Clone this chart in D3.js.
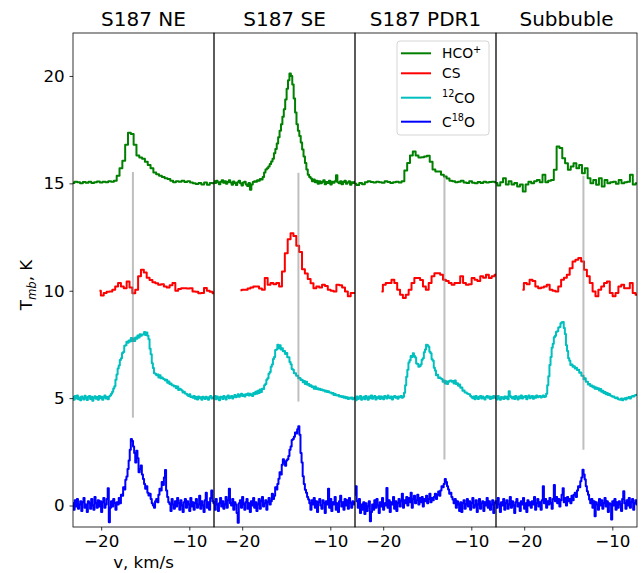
<!DOCTYPE html>
<html>
<head>
<meta charset="utf-8">
<script src="https://cdn.jsdelivr.net/npm/d3@7"></script>
<style>
  body { margin: 0; background: #fff; }
  svg { display: block; }
  text { font-family: "DejaVu Sans", sans-serif; fill: #000; }
</style>
</head>
<body>
<svg id="chart" width="643" height="573"></svg>
<script>
// ---- regions and species ----
const regions = ["S187 NE", "S187 SE", "S187 PDR1", "Subbuble"];
// legend labels: [text, isSuperscript]
const speciesLabels = [
  [["HCO", 0], ["+", 1]],
  [["CS", 0]],
  [["12", 1], ["CO", 0]],
  [["C", 0], ["18", 1], ["O", 0]]
];
const speciesColors = ["#008000", "#ff0000", "#00bfbf", "#0000ff"];
const speciesOffsets = [15, 10, 5, 0];   // vertical display offsets, K

// channel grids (km/s): first channel and channel width per region
const hcoStart = -23.2, hcoWidth = [0.32, 0.16, 0.32, 0.32];
const csStart = -20.2, csWidth = [0.325, 0.325, 0.325, 0.325];
const coStart = -23.2, coWidth = [0.125, 0.125, 0.125, 0.125];

// reference velocity marks per region
const markVelocity = [-16.4, -13.62, -13.05, -13.28];
const markTop = [15.53, 15.49, 15.35, 15.35];
const markBottom = [4.09, 4.84, 2.14, 2.6];

const xTicks = [-20, -10];
const yTicks = [0, 5, 10, 15, 20];

// ---- HCO+ spectra, T_mb (K) ----
const hcoNE = [0.02, 0.08, 0.05, 0.00, 0.06, 0.03, 0.07, 0.02, 0.05, 0.09,
  0.04, 0.07, 0.05, 0.10, 0.08, 0.12, 0.35, 0.70, 1.05, 1.80,
  2.35, 2.30, 1.80, 1.30, 1.20, 1.15, 1.00, 0.85, 0.70, 0.50,
  0.42, 0.35, 0.30, 0.24, 0.20, 0.12, 0.05, 0.10, 0.08, 0.12,
  0.06, 0.10, 0.04, 0.00, -0.03, 0.02, -0.05, 0.04, -0.06, 0.02, 0.00];
const hcoSE = [0.10, 0.02, 0.12, 0.05, -0.04, 0.08, 0.15, 0.03, 0.10, -0.02,
  0.06, 0.14, 0.04, -0.06, 0.09, 0.02, -0.08, 0.05, 0.12, 0.00,
  -0.10, 0.04, 0.08, -0.05, -0.12, 0.02, -0.30, -0.05, 0.06, 0.10,
  0.08, 0.15, 0.12, 0.20, 0.18, 0.30, 0.50, 0.65, 0.70, 0.78,
  0.90, 1.02, 1.15, 1.40, 1.60, 1.85, 2.15, 2.45, 2.75, 3.10,
  3.45, 3.90, 4.40, 4.80, 5.12, 5.00, 4.60, 3.95, 3.30, 2.75,
  2.45, 2.20, 1.90, 1.58, 1.25, 0.95, 0.65, 0.40, 0.30, 0.22,
  0.10, 0.18, 0.05, 0.12, -0.02, 0.10, 0.00, 0.08, 0.15, -0.04,
  0.06, 0.02, 0.12, -0.05, 0.08, 0.03, 0.10, 0.38, 0.05, 0.00,
  0.10, -0.04, 0.06, 0.12, -0.02, 0.04, 0.10, -0.06, 0.05, 0.02, 0.08];
const hcoPDR1 = [-0.02, -0.08, 0.02, -0.04, 0.05, 0.10, 0.06, 0.04, 0.08, 0.05,
  0.03, 0.10, 0.06, 0.02, 0.05, 0.08, 0.04, 0.10, 0.60, 0.95,
  1.30, 1.48, 1.30, 1.20, 1.22, 1.25, 1.28, 1.00, 0.65, 0.55,
  0.55, 0.40, 0.32, 0.22, 0.12, 0.10, 0.05, 0.08, 0.12, 0.04,
  0.02, 0.10, 0.03, 0.00, 0.06, 0.02, 0.08, 0.04, 0.06, 0.08, 0.05];
const hcoSub = [0.02, -0.10, 0.05, 0.24, -0.05, 0.10, -0.05, 0.02, -0.15, -0.05,
  -0.38, -0.05, 0.08, 0.00, 0.10, 0.16, 0.05, 0.40, 0.05, 0.12,
  0.16, 0.63, 1.71, 1.64, 1.17, 0.93, 0.63, 0.78, 0.93, 0.70,
  0.86, 0.47, 0.70, 0.24, 0.00, 0.16, -0.07, 0.24, -0.15, 0.16,
  0.00, 0.05, 0.08, -0.02, 0.16, 0.00, 0.05, 0.08, 0.40, -0.05, 0.00];

// ---- CS spectra ----
const csNE = [0.00, -0.22, -0.10, -0.05, -0.03, 0.05, 0.20, 0.36, 0.20, 0.12,
  0.43, 0.15, -0.12, 0.05, 0.67, 0.98, 0.85, 0.60, 0.50, 0.40,
  0.35, 0.28, 0.30, 0.20, 0.15, 0.25, 0.36, 0.00, 0.08, 0.12,
  0.12, 0.10, 0.12, -0.03, -0.05, -0.12, -0.10, 0.13, 0.00, -0.05, -0.12];
const csSE = [0.02, 0.05, 0.05, 0.10, 0.15, 0.20, 0.20, 0.10, 0.05, 0.59,
  0.28, 0.36, 0.30, 0.36, 0.20, 0.90, 1.75, 2.40, 2.68, 2.55,
  2.10, 1.80, 1.00, 0.80, 0.55, 0.35, 0.12, 0.20, 0.15, 0.28,
  0.22, 0.05, 0.00, -0.03, 0.28, 0.25, 0.15, -0.03, -0.26, -0.11, -0.10];
const csPDR1 = [-0.03, 0.28, 0.36, 0.36, 0.51, 0.36, 0.05, -0.19, -0.34, -0.19,
  0.05, 0.36, 0.59, 0.59, 0.50, 0.20, 0.05, 0.36, 0.67, 0.82,
  0.82, 0.74, 0.51, 0.45, 0.36, 0.28, 0.36, 0.36, 0.67, 0.36,
  0.28, 0.30, 0.59, 0.51, 0.45, 0.67, 0.60, 0.74, 0.59, 0.67, 0.74];
const csSub = [0.05, 0.36, 0.30, 0.51, 0.45, 0.20, 0.12, 0.15, 0.20, 0.28,
  0.05, 0.00, -0.03, 0.20, 0.51, 0.60, 0.75, 1.05, 1.36, 1.44,
  1.52, 1.36, 0.98, 0.67, 0.36, -0.03, -0.26, 0.05, 0.20, 0.36,
  0.43, -0.11, -0.26, -0.11, 0.20, 0.28, 0.12, 0.12, 0.36, -0.11, -0.19];

// ---- 12CO spectra ----
const co12NE = [0.05, -0.08, 0.10, -0.02, 0.12, -0.05, 0.03, -0.10,
  0.08, 0.00, -0.06, 0.11, 0.02, -0.09, 0.06, 0.10,
  -0.04, 0.07, -0.12, 0.02, 0.09, -0.03, 0.05, -0.07,
  0.10, 0.00, 0.06, -0.08, 0.04, 0.12, -0.02, 0.05,
  -0.05, 0.08, 0.12, 0.20, 0.30, 0.45, 0.55, 0.85,
  1.10, 1.38, 1.52, 1.78, 1.86, 2.10, 2.15, 2.44,
  2.46, 2.62, 2.58, 2.68, 2.64, 2.80, 2.66, 2.78,
  2.66, 2.82, 2.76, 2.92, 2.82, 2.97, 2.90, 2.96,
  2.96, 3.08, 2.94, 3.06, 2.90, 2.74, 2.30, 2.04,
  1.62, 1.40, 1.16, 1.14, 1.06, 1.10, 0.96, 1.06,
  0.92, 0.96, 0.90, 0.88, 0.82, 0.86, 0.72, 0.78,
  0.66, 0.68, 0.60, 0.60, 0.54, 0.56, 0.46, 0.54,
  0.38, 0.44, 0.40, 0.36, 0.26, 0.30, 0.22, 0.20,
  0.15, 0.10, 0.18, 0.05, 0.08, 0.02, 0.10, -0.03,
  0.05, -0.06, 0.08, 0.00, 0.04, -0.08, 0.06, 0.02,
  -0.04, 0.07, 0.00, -0.07, 0.05, 0.10, -0.02, 0.03,
  0.00];
const co12SE = [0.02, 0.10, -0.05, 0.08, 0.00, -0.10, 0.06, 0.04,
  -0.04, 0.10, 0.03, -0.06, 0.08, 0.12, 0.00, 0.05,
  0.10, -0.02, 0.06, 0.14, 0.04, 0.08, 0.18, 0.06,
  0.12, 0.20, 0.10, 0.16, 0.08, 0.18, 0.14, 0.22,
  0.12, 0.20, 0.15, 0.10, 0.24, 0.18, 0.30, 0.20,
  0.34, 0.24, 0.40, 0.28, 0.44, 0.42, 0.60, 0.66,
  0.86, 0.92, 1.14, 1.22, 1.46, 1.56, 1.82, 1.92,
  2.24, 2.26, 2.48, 2.32, 2.46, 2.26, 2.32, 2.18,
  2.20, 2.06, 2.10, 1.90, 1.90, 1.68, 1.58, 1.36,
  1.32, 1.16, 1.16, 1.04, 1.04, 0.92, 0.94, 0.84,
  0.86, 0.74, 0.80, 0.66, 0.76, 0.62, 0.66, 0.56,
  0.60, 0.52, 0.54, 0.44, 0.54, 0.42, 0.46, 0.40,
  0.44, 0.38, 0.40, 0.36, 0.37, 0.31, 0.34, 0.28,
  0.32, 0.26, 0.26, 0.21, 0.24, 0.14, 0.19, 0.13,
  0.12, 0.15, 0.08, 0.10, 0.05, 0.09, 0.02, 0.06,
  0.00, 0.04, -0.04, 0.02, -0.02, 0.03, -0.05, 0.00,
  0.02];
const co12PDR1 = [0.05, -0.10, 0.08, -0.04, 0.02, 0.10, -0.08, 0.00,
  0.06, -0.05, 0.10, 0.02, -0.07, 0.08, 0.00, 0.12,
  -0.03, 0.05, 0.10, -0.06, 0.04, 0.00, 0.09, -0.04,
  0.08, 0.02, -0.05, 0.10, 0.05, -0.02, 0.12, 0.03,
  0.00, 0.08, -0.06, 0.05, 0.10, 0.02, 0.06, -0.03,
  0.08, 0.04, 0.10, 0.02, 0.06, 0.25, 0.60, 1.00,
  1.32, 1.66, 1.76, 1.96, 1.91, 2.09, 1.96, 1.89,
  1.61, 1.59, 1.46, 1.49, 1.56, 1.79, 1.86, 2.14,
  2.26, 2.49, 2.46, 2.39, 2.16, 2.09, 1.81, 1.74,
  1.41, 1.29, 1.06, 1.09, 0.94, 0.96, 0.91, 0.89,
  0.76, 0.82, 0.68, 0.79, 0.66, 0.76, 0.81, 0.82,
  0.76, 0.80, 0.68, 0.82, 0.66, 0.69, 0.58, 0.64,
  0.48, 0.49, 0.34, 0.36, 0.26, 0.26, 0.21, 0.19,
  0.18, 0.10, 0.05, 0.00, 0.08, -0.05, 0.10, 0.02,
  -0.04, 0.06, 0.10, -0.02, 0.08, 0.00, -0.06, 0.05,
  0.10, 0.02, 0.08, -0.04, 0.06, 0.00, 0.10, 0.04,
  0.00];
const co12Sub = [0.04, -0.06, 0.10, 0.00, -0.08, 0.05, 0.02, -0.04,
  0.08, 0.00, 0.06, -0.05, 0.32, 0.10, 0.04, -0.02,
  0.06, -0.04, 0.10, 0.02, -0.06, 0.08, 0.00, 0.12,
  -0.02, 0.07, 0.04, 0.10, -0.05, 0.06, 0.12, 0.00,
  0.05, 0.10, -0.03, 0.08, 0.02, 0.12, 0.04, 0.08,
  0.10, 0.03, 0.06, 0.12, 0.05, 0.08, 0.20, 0.60,
  1.02, 1.54, 1.91, 2.34, 2.53, 2.84, 2.91, 3.09,
  3.11, 3.29, 3.31, 3.49, 3.53, 3.54, 3.26, 2.99,
  2.46, 2.19, 1.86, 1.74, 1.54, 1.56, 1.46, 1.49,
  1.38, 1.42, 1.31, 1.32, 1.18, 1.19, 1.04, 1.04,
  0.88, 0.92, 0.76, 0.76, 0.64, 0.66, 0.56, 0.59,
  0.51, 0.54, 0.44, 0.49, 0.42, 0.46, 0.36, 0.42,
  0.30, 0.34, 0.24, 0.29, 0.18, 0.24, 0.14, 0.19,
  0.12, 0.10, 0.06, 0.08, 0.02, 0.00, 0.03, -0.04,
  -0.06, -0.08, -0.02, -0.10, -0.04, 0.00, -0.06, 0.02,
  0.00, 0.05, -0.02, 0.06, 0.10, 0.08, 0.12, 0.15,
  0.16];

// ---- C18O spectra ----
const c18oNE = [0.10, -0.20, 0.25, -0.05, 0.30, -0.15, 0.05, 0.20,
  -0.25, 0.15, 0.35, -0.10, 0.05, -0.30, 0.20, 0.10,
  -0.15, 0.30, 0.00, -0.20, 0.40, 0.10, -0.10, 0.25,
  -0.05, 0.20, -0.30, 0.15, 0.35, -0.10, 0.05, 0.30,
  0.80, -0.78, -0.10, 0.20, -0.05, 0.30, 0.10, -0.20,
  0.15, 0.05, 0.35, 0.10, 0.50, 0.45, 0.85, 0.75,
  1.20, 1.35, 1.70, 2.10, 2.60, 3.10, 3.00, 2.75,
  2.45, 2.00, 2.55, 2.20, 1.55, 1.70, 1.86, 1.45,
  1.24, 1.00, 0.78, 0.90, 0.60, 0.47, 0.55, 0.30,
  0.10, 0.00, -0.10, 0.20, 0.30, 0.15, 0.50, 0.78,
  0.70, 1.10, 0.95, 1.30, 1.65, 0.70, 0.40, 0.15,
  0.07, -0.25, 0.30, 0.05, -0.15, 0.20, -0.05, 0.35,
  0.10, -0.20, 0.25, 0.00, -0.30, 0.15, 0.30, -0.10,
  0.20, 0.05, -0.25, 0.35, -0.05, 0.15, -0.20, 0.10,
  0.30, -0.10, 0.05, 0.45, -0.15, 0.20, 0.00, -0.30,
  0.25, 0.60, -0.10, 0.15, -0.20, 0.35, 0.70, 0.20,
  0.10];
const c18oSE = [0.15, -0.20, 0.30, 0.05, -0.25, 0.10, 0.35, -0.05,
  0.20, -0.15, 0.05, 0.40, -0.10, 0.25, 0.78, 0.10,
  0.00, 0.30, -0.20, 0.15, 0.05, -0.35, -0.80, 0.10,
  0.25, -0.10, 0.40, 0.05, -0.20, 0.15, 0.30, -0.15,
  0.10, -0.30, 0.20, 0.00, 0.35, -0.10, 0.15, -0.25,
  0.05, 0.30, -0.15, 0.20, 0.40, -0.05, 0.10, 0.25,
  -0.20, 0.15, 0.35, 0.05, 0.20, 0.55, 0.30, 0.45,
  0.85, 0.75, 1.00, 1.25, 1.55, 1.45, 1.90, 2.15,
  2.00, 1.85, 2.10, 2.15, 2.30, 2.60, 2.75, 3.05,
  3.10, 3.20, 3.40, 3.35, 3.55, 3.69, 3.30, 2.45,
  2.00, 1.36, 1.00, 0.74, 0.60, 0.40, 0.28, 0.10,
  -0.20, 0.25, 0.05, 0.35, -0.10, 0.20, -0.30, 0.15,
  0.30, 0.00, -0.15, 0.25, 0.10, -0.35, 0.20, 0.05,
  0.78, -0.10, 0.30, -0.25, 0.15, 0.05, 0.40, -0.20,
  0.10, -0.30, 0.20, 0.45, -0.05, 0.15, -0.20, 0.30,
  0.00, 0.25, -0.15, 0.35, 0.10, -0.10, 0.20, 0.05,
  0.15];
const c18oPDR1 = [0.50, 0.90, 0.20, -0.10, 0.30, -0.35, 0.05, -0.20,
  0.15, -0.40, 0.10, -0.25, -0.05, 0.20, -0.73, -0.30,
  0.05, -0.20, 0.25, -0.10, 0.30, 0.00, -0.35, 0.15,
  -0.05, 0.35, -0.20, 0.10, 0.00, 0.82, -0.10, 0.25,
  -0.30, 0.15, 0.05, 0.40, -0.15, 0.20, -0.25, 0.10,
  0.30, -0.05, 0.20, 0.55, -0.10, 0.25, 0.10, 0.40,
  0.00, 0.35, 0.15, 0.60, -0.10, 0.30, 0.45, 0.10,
  0.25, 0.50, 0.05, 0.35, 0.15, 0.40, -0.05, 0.30,
  0.20, 0.45, 0.10, 0.30, 0.55, 0.15, 0.35, 0.25,
  0.40, 0.55, 0.30, 0.50, 0.65, 0.45, 0.70, 0.90,
  0.85, 1.00, 1.24, 1.10, 0.90, 0.75, 0.55, 0.60,
  0.40, 0.28, 0.10, 0.30, -0.10, 0.20, 0.05, -0.25,
  0.15, -0.30, 0.10, 0.25, -0.15, 0.05, 0.30, -0.05,
  0.20, -0.20, 0.10, 0.35, -0.10, 0.00, 0.25, -0.30,
  0.05, 0.30, -0.15, 0.10, 0.20, -0.25, 0.15, 0.00,
  0.35, -0.10, 0.20, -0.20, 0.05, 0.25, -0.35, 0.10,
  0.20];
const c18oSub = [0.20, -0.10, 0.35, 0.05, -0.30, 0.15, 0.00, 0.30,
  -0.20, 0.10, 0.25, -0.15, 0.05, 0.40, -0.10, 0.20,
  0.00, -0.35, 0.15, 0.30, -0.05, 0.10, -0.25, 0.20,
  0.05, 0.35, -0.15, 0.10, -0.30, 0.25, 0.00, 0.15,
  -0.10, 0.20, 0.05, 0.40, -0.20, 0.10, 0.30, -0.05,
  0.15, -0.20, 0.25, 0.90, 0.10, 0.30, -0.10, 0.20,
  0.05, 0.35, 0.10, -0.15, 0.30, 0.95, 0.20, 0.40,
  0.10, 0.30, -0.05, 0.25, 0.50, 0.80, 0.15, 0.35,
  0.00, 0.40, 0.20, 0.30, 0.10, 0.45, 0.25, 0.50,
  0.59, 0.40, 0.70, 0.90, 0.85, 1.13, 1.30, 1.67,
  1.45, 1.21, 0.90, 0.67, 0.50, 0.28, 0.10, 0.30,
  -0.10, 0.20, -0.50, 0.15, 0.05, -0.20, 0.30, 0.00,
  0.25, -0.15, 0.10, 0.35, -0.05, 0.20, -0.30, 0.10,
  0.05, -0.65, 0.20, 0.00, 0.30, -0.20, 0.15, -0.10,
  0.20, 0.05, -0.25, 0.30, 0.67, 0.10, -0.15, 0.25,
  0.00, 0.35, -0.10, 0.15, 0.30, -0.20, 0.10, 0.25,
  0.05];

// spectra grouped by species, one entry per region
const spectra = [
  { values: [hcoNE, hcoSE, hcoPDR1, hcoSub], start: hcoStart, width: hcoWidth },
  { values: [csNE, csSE, csPDR1, csSub], start: csStart, width: csWidth },
  { values: [co12NE, co12SE, co12PDR1, co12Sub], start: coStart, width: coWidth },
  { values: [c18oNE, c18oSE, c18oPDR1, c18oSub], start: coStart, width: coWidth }
];

// ---- layout ----
const W = 643, H = 573;
const plotLeft = 73, plotTop = 33, plotBottom = 527, panelW = 141;
const vDomain = [-23.2, -7.2];
const tDomain = [-1, 22];
const tickFont = 16.7, titleFont = 20, legendFont = 13.9;

const svg = d3.select("#chart");
svg.append("rect").attr("width", W).attr("height", H).attr("fill", "#fff");
const defs = svg.append("defs");

const y = d3.scaleLinear().domain(tDomain).range([plotBottom, plotTop]);

regions.forEach((name, p) => {
  const x0 = plotLeft + p * panelW;
  const x = d3.scaleLinear().domain(vDomain).range([x0, x0 + panelW]);

  defs.append("clipPath").attr("id", "clip" + p)
    .append("rect").attr("x", x0).attr("y", plotTop)
    .attr("width", panelW).attr("height", plotBottom - plotTop);

  const g = svg.append("g");
  const plot = g.append("g").attr("clip-path", `url(#clip${p})`);

  spectra.forEach((s, k) => {
    const w = s.width[p];
    const line = d3.line()
      .x((d, i) => x(s.start + i * w))
      .y(d => y(d + speciesOffsets[k]))
      .curve(d3.curveStep);
    plot.append("path")
      .datum(s.values[p])
      .attr("d", line)
      .attr("fill", "none")
      .attr("stroke", speciesColors[k])
      .attr("stroke-width", 2)
      .attr("stroke-linejoin", "round");
  });

  // vertical velocity mark
  plot.append("line")
    .attr("x1", x(markVelocity[p])).attr("x2", x(markVelocity[p]))
    .attr("y1", y(markTop[p])).attr("y2", y(markBottom[p]))
    .attr("stroke", "#808080").attr("stroke-opacity", 0.5)
    .attr("stroke-width", 2);

  // x axis
  const xAxis = d3.axisBottom(x).tickValues(xTicks).tickSize(3.5).tickPadding(4.9)
    .tickFormat(d => (d < 0 ? "\u2212" : "") + Math.abs(d));
  const ax = g.append("g").attr("transform", `translate(0,${plotBottom})`).call(xAxis);
  ax.select(".domain").remove();
  ax.selectAll("line").attr("stroke", "#000").attr("stroke-width", 0.8);
  ax.selectAll("text").attr("font-size", tickFont).attr("font-family", "DejaVu Sans").attr("fill", "#000");

  if (p === 0) {
    const yAxis = d3.axisLeft(y).tickValues(yTicks).tickSize(3.5).tickPadding(4.9);
    const ay = g.append("g").attr("transform", `translate(${x0},0)`).call(yAxis);
    ay.select(".domain").remove();
    ay.selectAll("line").attr("stroke", "#000").attr("stroke-width", 0.8);
    ay.selectAll("text").attr("font-size", tickFont).attr("font-family", "DejaVu Sans").attr("fill", "#000");
  }

  // frame
  g.append("rect")
    .attr("x", x0).attr("y", plotTop)
    .attr("width", panelW).attr("height", plotBottom - plotTop)
    .attr("fill", "none").attr("stroke", "#000").attr("stroke-width", 0.8);

  // title
  g.append("text")
    .attr("x", x0 + panelW / 2).attr("y", 26)
    .attr("text-anchor", "middle").attr("font-size", titleFont)
    .text(name);
});

// axis labels
svg.append("text")
  .attr("x", plotLeft + panelW / 2).attr("y", 568)
  .attr("text-anchor", "middle").attr("font-size", tickFont)
  .text("v, km/s");

const yl = svg.append("text")
  .attr("transform", `translate(32,285) rotate(-90)`)
  .attr("text-anchor", "middle").attr("font-size", tickFont);
yl.append("tspan").text("T");
yl.append("tspan").attr("font-size", 11.7).attr("font-style", "italic").attr("dy", 3.5).text("mb");
yl.append("tspan").attr("dy", -3.5).text(", K");

// legend
const legend = svg.append("g");
legend.append("rect")
  .attr("x", 397).attr("y", 41).attr("width", 92).attr("height", 94).attr("rx", 3)
  .attr("fill", "#fff").attr("fill-opacity", 0.8)
  .attr("stroke", "#cccccc").attr("stroke-width", 0.8);
const rowY = [53.3, 73.3, 97.7, 121.7];
speciesLabels.forEach((parts, k) => {
  legend.append("line")
    .attr("x1", 401).attr("x2", 431).attr("y1", rowY[k]).attr("y2", rowY[k])
    .attr("stroke", speciesColors[k]).attr("stroke-width", 2);
  const t = legend.append("text").attr("x", 442).attr("y", rowY[k] + 5).attr("font-size", legendFont);
  let raised = false;
  parts.forEach(([str, sup]) => {
    const ts = t.append("tspan").text(str);
    if (sup && !raised) { ts.attr("font-size", 9.7).attr("dy", -5.5); raised = true; }
    else if (!sup && raised) { ts.attr("dy", 5.5); raised = false; }
  });
});
</script>
</body>
</html>
